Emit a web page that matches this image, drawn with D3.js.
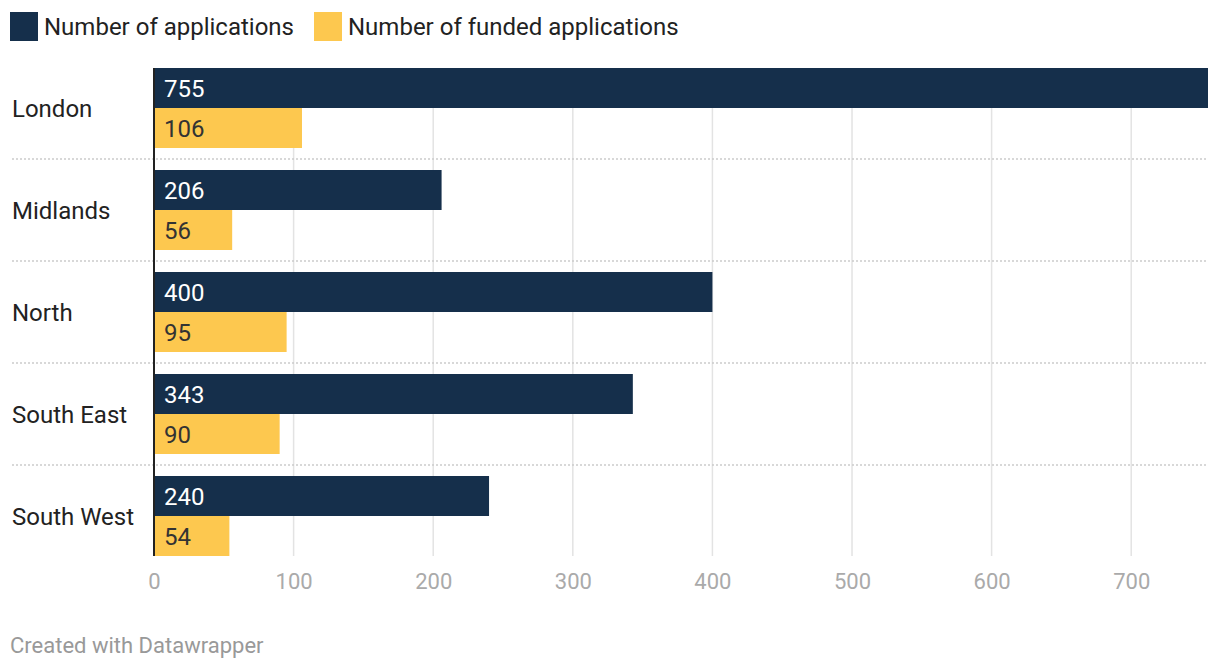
<!DOCTYPE html>
<html>
<head>
<meta charset="utf-8">
<script src="https://cdn.jsdelivr.net/npm/d3@7"></script>
<style>
  body { margin: 0; background: #fff; font-family: Roboto, "Noto Sans", sans-serif; }
</style>
</head>
<body>
<svg id="chart" width="1220" height="670"></svg>
<script>
// data
const regions = ["London", "Midlands", "North", "South East", "South West"];
const series = ["Number of applications", "Number of funded applications"];
const applications = [755, 206, 400, 343, 240];
const funded = [106, 56, 95, 90, 54];
const ticks = [0, 100, 200, 300, 400, 500, 600, 700];

const colors = ["#152f4b", "#fdc84f"];
const labelColors = ["#ffffff", "#333333"];

const svg = d3.select("#chart");

const x = d3.scaleLinear().domain([0, 755]).range([154, 1208]);
const y = d3.scaleBand()
  .domain(regions)
  .range([57, 567])
  .paddingInner(22 / 102)
  .paddingOuter(11 / 102);
const ySub = d3.scaleBand().domain(series).range([0, y.bandwidth()]);

const rows = regions.map((r, i) => ({ region: r, values: [applications[i], funded[i]] }));

// gridlines
svg.append("g")
  .selectAll("line")
  .data(ticks.filter(t => t > 0))
  .join("line")
  .attr("x1", d => x(d)).attr("x2", d => x(d))
  .attr("y1", y(regions[0])).attr("y2", y(regions[regions.length - 1]) + y.bandwidth())
  .attr("stroke", "#e3e3e3")
  .attr("stroke-width", 1.5);

// row separators
svg.append("g")
  .selectAll("line")
  .data(regions.slice(0, -1))
  .join("line")
  .attr("x1", 12).attr("x2", 1208)
  .attr("y1", d => y(d) + y.bandwidth() + y.step() * y.paddingInner() / 2)
  .attr("y2", d => y(d) + y.bandwidth() + y.step() * y.paddingInner() / 2)
  .attr("stroke", "#cccccc")
  .attr("stroke-width", 1.5)
  .attr("stroke-dasharray", "2,2");

// bars
const groups = svg.append("g")
  .selectAll("g")
  .data(rows)
  .join("g")
  .attr("transform", d => "translate(0," + y(d.region) + ")");

groups.selectAll("rect")
  .data(d => d.values.map((v, j) => ({ v, j })))
  .join("rect")
  .attr("x", x(0))
  .attr("y", d => ySub(series[d.j]))
  .attr("width", d => x(d.v) - x(0))
  .attr("height", ySub.bandwidth())
  .attr("fill", d => colors[d.j]);

groups.selectAll("text.value")
  .data(d => d.values.map((v, j) => ({ v, j })))
  .join("text")
  .attr("class", "value")
  .attr("x", x(0) + 10)
  .attr("y", d => ySub(series[d.j]) + ySub.bandwidth() / 2)
  .attr("dy", "0.36em")
  .attr("font-size", 24)
  .attr("fill", d => labelColors[d.j])
  .text(d => d.v);

// category labels
groups.append("text")
  .attr("x", 12)
  .attr("y", y.bandwidth() / 2)
  .attr("dy", "0.36em")
  .attr("font-size", 24)
  .attr("fill", "#222")
  .text(d => d.region);

// baseline
svg.append("line")
  .attr("x1", x(0)).attr("x2", x(0))
  .attr("y1", y(regions[0])).attr("y2", y(regions[regions.length - 1]) + y.bandwidth())
  .attr("stroke", "#222")
  .attr("stroke-width", 2);

// x axis
const axis = svg.append("g")
  .attr("transform", "translate(0,581)")
  .call(d3.axisBottom(x).tickValues(ticks).tickSize(0).tickPadding(0));
axis.select(".domain").remove();
axis.selectAll("text")
  .attr("dy", "0.36em")
  .attr("font-size", 22)
  .attr("font-family", "Roboto, sans-serif")
  .attr("fill", "#aaaaaa");

// legend
const legend = svg.append("g");
const legendX = [10, 314];
series.forEach((s, i) => {
  legend.append("rect")
    .attr("x", legendX[i]).attr("y", 12)
    .attr("width", 28).attr("height", 29)
    .attr("fill", colors[i]);
  legend.append("text")
    .attr("x", legendX[i] + 34).attr("y", 26.5)
    .attr("dy", "0.36em")
    .attr("font-size", 24)
    .attr("fill", "#222")
    .text(s);
});

// footer
svg.append("text")
  .attr("x", 10).attr("y", 645)
  .attr("dy", "0.36em")
  .attr("font-size", 22)
  .attr("fill", "#999")
  .text("Created with Datawrapper");
</script>
</body>
</html>
